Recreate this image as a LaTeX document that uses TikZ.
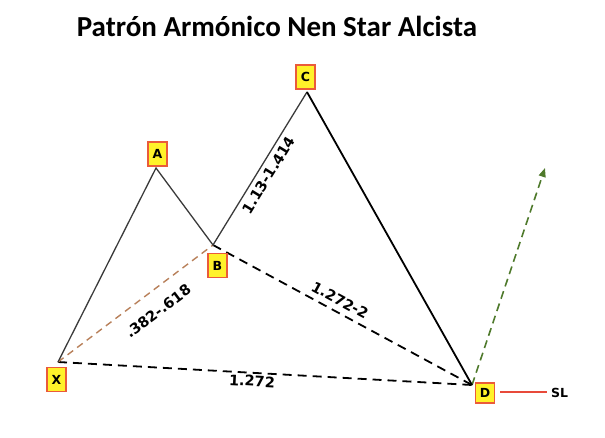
\documentclass[tikz,border=0pt]{standalone}
\usepackage{fontspec}
\setmainfont{DejaVu Sans}
\newfontfamily\titlefont{Carlito}
\usetikzlibrary{arrows.meta}
\definecolor{boxfill}{HTML}{FFF22A}
\definecolor{boxline}{HTML}{EA5B3A}
\definecolor{legline}{HTML}{3A3A3A}
\definecolor{brownd}{HTML}{B8805A}
\definecolor{greend}{HTML}{4F7A2C}
\definecolor{slred}{HTML}{E84A3A}
\begin{document}
\begin{tikzpicture}[x=1pt,y=-1pt,
  ptbox/.style={draw=boxline,fill=boxfill,line width=1.6pt,minimum width=19pt,minimum height=24pt,inner sep=0pt,font=\fontsize{12.5}{12.5}\selectfont\bfseries},
  ptboxs/.style={ptbox,minimum height=20pt},
  leg/.style={draw=legline,line width=1.3pt},
  dleg/.style={draw=black,line width=1.8pt,dash pattern=on 9pt off 6pt},
  elbl/.style={font=\fontsize{14.5}{14.5}\selectfont\bfseries,inner sep=0pt}]
\useasboundingbox (0,0) rectangle (605,437);
\node[font=\titlefont\fontsize{29}{29}\selectfont\bfseries,anchor=base] (title) at (277,36) {Patrón Armónico Nen Star Alcista};
\coordinate (x) at (58,362);
\coordinate (a) at (156,168);
\coordinate (b) at (213,245);
\coordinate (c) at (307,92);
\coordinate (d) at (472,385);
\coordinate (g) at (545,168);
\coordinate (s1) at (500,392);
\coordinate (s2) at (547,392);
% dashed
\draw[dleg] (x) -- (d);
\draw[dleg] (b) -- (d);
\draw[draw=brownd,line width=1.4pt,dash pattern=on 7pt off 5pt] (x) -- (b);
\draw[draw=greend,line width=1.6pt,dash pattern=on 8pt off 5pt,-{Triangle[length=9pt,width=7pt]}] (d) -- (g);
% legs
\draw[leg] (x) -- (a) -- (b) -- (c);
\draw[draw=black,line width=1.8pt] (c) -- (d);
\draw[draw=slred,line width=1.4pt] (s1) -- (s2);
% labels
\node[ptbox] (lx) at (56.5,379.5) {X};
\node[ptbox] (la) at (157.5,154) {A};
\node[ptbox] (lb) at (217.5,265.5) {B};
\node[ptbox] (lc) at (305.5,77) {C};
\node[ptboxs] (ld) at (485,393) {D};
\node[font=\fontsize{12.5}{12.5}\selectfont\bfseries,anchor=west,inner sep=0pt] (sl) at (551,393) {SL};
\node[elbl,rotate=37] (t1) at (158,311) {.382-.618};
\node[elbl,rotate=58.4] (t2) at (268.5,175) {1.13-1.414};
\node[elbl,rotate=-28.4] (t3) at (340,300) {1.272-2};
\node[elbl,rotate=-3.2] (t4) at (252,381) {1.272};
\end{tikzpicture}
\end{document}
